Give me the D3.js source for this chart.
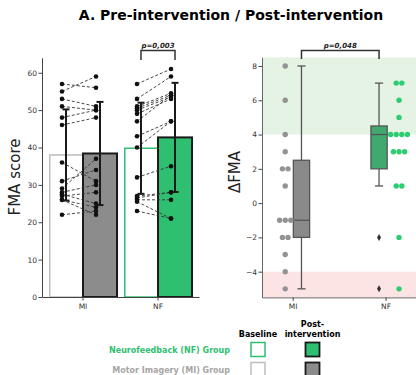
<!DOCTYPE html>
<meta charset="utf-8">
<script src="https://d3js.org/d3.v7.min.js"></script>
<style>
  body { margin: 0; background: #fff; }
  text { font-family: "DejaVu Sans", sans-serif; }
</style>
<div id="chart"></div>
<script>
// ---- data ----
let groups = ["MI", "NF"];
let baselineMean = [38.0, 39.8];
let postMean = [38.4, 42.7];
let baselineErr = [12.2, 12.2];
let postErr = [13.8, 14.6];

// individual subjects (baseline -> post)
let miBaseline = [57, 55, 53, 51, 48, 46, 36, 31, 29, 28, 27.5, 27, 26, 26, 22];
let miPost     = [56, 59, 51, 50, 50, 48, 31, 34, 37, 30, 25, 28, 22, 24, 23];
let nfBaseline = [57, 53, 51, 50.5, 50, 49, 47, 43, 40, 32, 27, 26.5, 26, 25.5, 23];
let nfPost     = [61, 59, 54.5, 54, 53.5, 53, 54, 47, 47, 35, 28, 28, 26, 21, 21];

// change in FMA per subject
let miDelta = [8, 6, 4, 3, 2, 2, 1, -1, -1, -1, -2, -2, -3, -4, -5];
let nfDelta = [7, 7, 6, 5, 4, 4, 4, 4, 3, 3, 3, 1, 1, -2, -5];

let green = "#2fbf71", gray = "#8c8c8c";

let svg = d3.select("#chart").append("svg")
  .attr("width", 416).attr("height", 375);

// title
svg.append("text")
  .attr("x", 231).attr("y", 20)
  .attr("text-anchor", "middle")
  .style("font-size", "14px").style("font-weight", "bold")
  .text("A. Pre-intervention / Post-intervention");

// ================= left panel: bars =================
let x = d3.scaleBand().domain(groups).range([42, 199])
  .paddingInner(0.093).paddingOuter(0.093);
let x1 = d3.scaleBand().domain(["base", "post"]).range([0, x.bandwidth()]);
let y = d3.scaleLinear().domain([0, 64]).range([297, 57.8]);

let left = svg.append("g");

let bars = [];
groups.forEach(function(g, i) {
  bars.push({g: g, k: "base", v: baselineMean[i], e: baselineErr[i]});
  bars.push({g: g, k: "post", v: postMean[i], e: postErr[i]});
});

function barFill(d) {
  if (d.k == "base") return "#fff";
  return d.g == "NF" ? green : gray;
}
function barStroke(d) {
  if (d.k == "post") return "#1a1a1a";
  return d.g == "NF" ? green : "#bdbdbd";
}

left.selectAll(".bar").data(bars).enter().append("rect")
  .attr("x", d => x(d.g) + x1(d.k) + (d.k == "base" ? 0.8 : 0))
  .attr("y", d => y(d.v))
  .attr("width", d => x1.bandwidth() - (d.k == "base" ? 0.8 : 0))
  .attr("height", d => y(0) - y(d.v))
  .attr("fill", barFill)
  .attr("stroke", barStroke)
  .attr("stroke-width", d => d.k == "post" ? 2 : 1.5);

// subject lines and dots
let pairs = [
  {g: "MI", b: miBaseline, p: miPost},
  {g: "NF", b: nfBaseline, p: nfPost}
];
let dotOff = -4;
pairs.forEach(function(s) {
  let xb = x(s.g) + x1("base") + x1.bandwidth() / 2 + dotOff;
  let xp = x(s.g) + x1("post") + x1.bandwidth() / 2 + dotOff;
  s.b.forEach(function(v, i) {
    left.append("line")
      .attr("x1", xb).attr("y1", y(v))
      .attr("x2", xp).attr("y2", y(s.p[i]))
      .attr("stroke", "#333").attr("stroke-width", 0.9)
      .attr("stroke-dasharray", "3,2");
  });
  left.selectAll(null).data(s.b).enter().append("circle")
    .attr("cx", xb).attr("cy", d => y(d)).attr("r", 2.3).attr("fill", "#111");
  left.selectAll(null).data(s.p).enter().append("circle")
    .attr("cx", xp).attr("cy", d => y(d)).attr("r", 2.3).attr("fill", "#111");
});

// error bars
bars.forEach(function(d) {
  let cx = x(d.g) + x1(d.k) + x1.bandwidth() / 2;
  let eg = left.append("g").attr("stroke", "#1a1a1a").attr("stroke-width", 2);
  eg.append("line").attr("x1", cx).attr("x2", cx)
    .attr("y1", y(d.v - d.e)).attr("y2", y(d.v + d.e));
  eg.append("line").attr("x1", cx - 3.5).attr("x2", cx + 3.5)
    .attr("y1", y(d.v + d.e)).attr("y2", y(d.v + d.e));
  eg.append("line").attr("x1", cx - 3.5).attr("x2", cx + 3.5)
    .attr("y1", y(d.v - d.e)).attr("y2", y(d.v - d.e));
});

// axes
let lyAxis = left.append("g").attr("transform", "translate(42,0)")
  .call(d3.axisLeft(y).tickValues([0, 10, 20, 30, 40, 50, 60]).tickSize(3.5).tickSizeOuter(0));
let lxAxis = left.append("g").attr("transform", "translate(0,297)")
  .call(d3.axisBottom(x).tickSize(3.5).tickSizeOuter(0));
[lyAxis, lxAxis].forEach(function(a) {
  a.select(".domain").attr("stroke", "#444");
  a.selectAll(".tick line").attr("stroke", "#444");
  a.selectAll(".tick text").attr("fill", "#333").style("font-size", "7.5px")
    .style("font-family", "DejaVu Sans");
});
lyAxis.selectAll(".tick text").attr("x", -5);

left.append("text")
  .attr("transform", "translate(20,177) rotate(-90)")
  .attr("text-anchor", "middle")
  .style("font-size", "15px").attr("fill", "#222")
  .text("FMA score");

// significance bracket
function bracket(g, xa, xb, yTop, yBot, label) {
  g.append("path")
    .attr("d", "M" + xa + "," + yBot + "V" + yTop + "H" + xb + "V" + yBot)
    .attr("fill", "none").attr("stroke", "#333").attr("stroke-width", 1.5);
  g.append("text")
    .attr("x", (xa + xb) / 2).attr("y", yTop - 3)
    .attr("text-anchor", "middle")
    .style("font-size", "7px").style("font-weight", "bold").style("font-style", "italic")
    .attr("fill", "#222")
    .text(label);
}
bracket(left,
  x("NF") + x1("base") + x1.bandwidth() / 2,
  x("NF") + x1("post") + x1.bandwidth() / 2,
  50.5, 60, "p=0,003");

// ================= right panel: delta box plot =================
let right = svg.append("g");
let xr = d3.scaleLinear().domain([-0.33, 1.5]).range([262, 432]);
let yr = d3.scaleLinear().domain([-5.5, 8.5]).range([297.4, 57.4]);

// clinical bands
right.append("rect")
  .attr("x", xr(-0.33)).attr("width", 200)
  .attr("y", yr(8.5)).attr("height", yr(4) - yr(8.5))
  .attr("fill", "#e4f3e4");
right.append("rect")
  .attr("x", xr(-0.33)).attr("width", 200)
  .attr("y", yr(-4)).attr("height", yr(-5.5) - yr(-4))
  .attr("fill", "#fde4e4");

let boxPos = {MI: 0.095, NF: 0.93};
let stripPos = {MI: -0.08, NF: 1.145};
let boxW = 0.175;

function stats(arr) {
  let s = arr.slice().sort(d3.ascending);
  let q1 = d3.quantile(s, 0.25), med = d3.quantile(s, 0.5), q3 = d3.quantile(s, 0.75);
  let iqr = q3 - q1;
  let lo = d3.min(s.filter(v => v >= q1 - 1.5 * iqr));
  let hi = d3.max(s.filter(v => v <= q3 + 1.5 * iqr));
  let out = s.filter(v => v < lo || v > hi);
  return {q1: q1, med: med, q3: q3, lo: lo, hi: hi, out: out};
}

let deltas = {MI: miDelta, NF: nfDelta};
let boxFill = {MI: "#8a8a8a", NF: "#3fa96e"};
let dotFill = {MI: "#939393", NF: "#2ecc71"};

groups.forEach(function(g) {
  let st = stats(deltas[g]);
  let cx = xr(boxPos[g]);
  let hw = (xr(boxW) - xr(0)) / 2;
  let bg = right.append("g").attr("stroke", "#555").attr("stroke-width", 1.3);
  bg.append("line").attr("x1", cx).attr("x2", cx).attr("y1", yr(st.q3)).attr("y2", yr(st.hi));
  bg.append("line").attr("x1", cx).attr("x2", cx).attr("y1", yr(st.q1)).attr("y2", yr(st.lo));
  bg.append("line").attr("x1", cx - hw / 2).attr("x2", cx + hw / 2).attr("y1", yr(st.hi)).attr("y2", yr(st.hi));
  bg.append("line").attr("x1", cx - hw / 2).attr("x2", cx + hw / 2).attr("y1", yr(st.lo)).attr("y2", yr(st.lo));
  bg.append("rect").attr("x", cx - hw).attr("width", 2 * hw)
    .attr("y", yr(st.q3)).attr("height", yr(st.q1) - yr(st.q3))
    .attr("fill", boxFill[g]);
  bg.append("line").attr("x1", cx - hw).attr("x2", cx + hw).attr("y1", yr(st.med)).attr("y2", yr(st.med));
  // outliers as diamonds
  right.selectAll(null).data(st.out).enter().append("path")
    .attr("d", d3.symbol(d3.symbolDiamond, 14))
    .attr("transform", d => "translate(" + cx + "," + yr(d) + ")")
    .attr("fill", "#333");

  // swarm: spread equal values side by side
  let counts = d3.rollup(deltas[g], v => v.length, v => v);
  let seen = new Map();
  let sx = xr(stripPos[g]);
  right.selectAll(null).data(deltas[g]).enter().append("circle")
    .attr("cx", function(d) {
      let n = counts.get(d), k = seen.get(d) || 0;
      seen.set(d, k + 1);
      return sx + (k - (n - 1) / 2) * 5.6;
    })
    .attr("cy", d => yr(d)).attr("r", 2.7)
    .attr("fill", dotFill[g]);
});

let ryAxis = right.append("g").attr("transform", "translate(262,0)")
  .call(d3.axisLeft(yr).tickValues([-4, -2, 0, 2, 4, 6, 8]).tickSize(3.5).tickSizeOuter(0));
let rxAxis = right.append("g").attr("transform", "translate(0,297.4)")
  .call(d3.axisBottom(xr).tickValues([0, 1]).tickFormat(d => groups[d]).tickSize(3.5).tickSizeOuter(0));
[ryAxis, rxAxis].forEach(function(a) {
  a.select(".domain").attr("stroke", "#666");
  a.selectAll(".tick line").attr("stroke", "#444");
  a.selectAll(".tick text").attr("fill", "#333").style("font-size", "7.5px")
    .style("font-family", "DejaVu Sans");
});
ryAxis.selectAll(".tick text").attr("x", -5).text(d => d < 0 ? "\u2212" + (-d) : d);

right.append("text")
  .attr("transform", "translate(240,172) rotate(-90)")
  .attr("text-anchor", "middle")
  .style("font-size", "15px").attr("fill", "#222")
  .text("\u0394FMA");

bracket(right, xr(boxPos.MI), xr(boxPos.NF), 50.5, 59, "p=0,048");

// ================= legend =================
let legendRows = ["Neurofeedback (NF) Group", "Motor Imagery (MI) Group"];
let legendColor = [green, "#a6a6a6"];
let legendGroup = ["NF", "MI"];
let lg = svg.append("g");
lg.append("text").attr("x", 258).attr("y", 337).attr("text-anchor", "middle")
  .style("font-size", "8px").style("font-weight", "bold").text("Baseline");
lg.append("text").attr("x", 312.5).attr("y", 327).attr("text-anchor", "middle")
  .style("font-size", "8px").style("font-weight", "bold").text("Post-");
lg.append("text").attr("x", 312.5).attr("y", 337).attr("text-anchor", "middle")
  .style("font-size", "8px").style("font-weight", "bold").text("intervention");

legendRows.forEach(function(r, i) {
  let cy = 349.5 + i * 20;
  let g = legendGroup[i];
  lg.append("text").attr("x", 230).attr("y", cy + 3).attr("text-anchor", "end")
    .style("font-size", "8px").style("font-weight", "bold")
    .attr("fill", legendColor[i]).text(r);
  lg.append("rect").attr("x", 251).attr("y", cy - 7).attr("width", 14).attr("height", 14)
    .attr("fill", "#fff").attr("stroke", barStroke({g: g, k: "base"})).attr("stroke-width", 1.5);
  lg.append("rect").attr("x", 305.5).attr("y", cy - 7).attr("width", 14).attr("height", 14)
    .attr("fill", barFill({g: g, k: "post"})).attr("stroke", "#1a1a1a").attr("stroke-width", 1.8);
});
</script>
